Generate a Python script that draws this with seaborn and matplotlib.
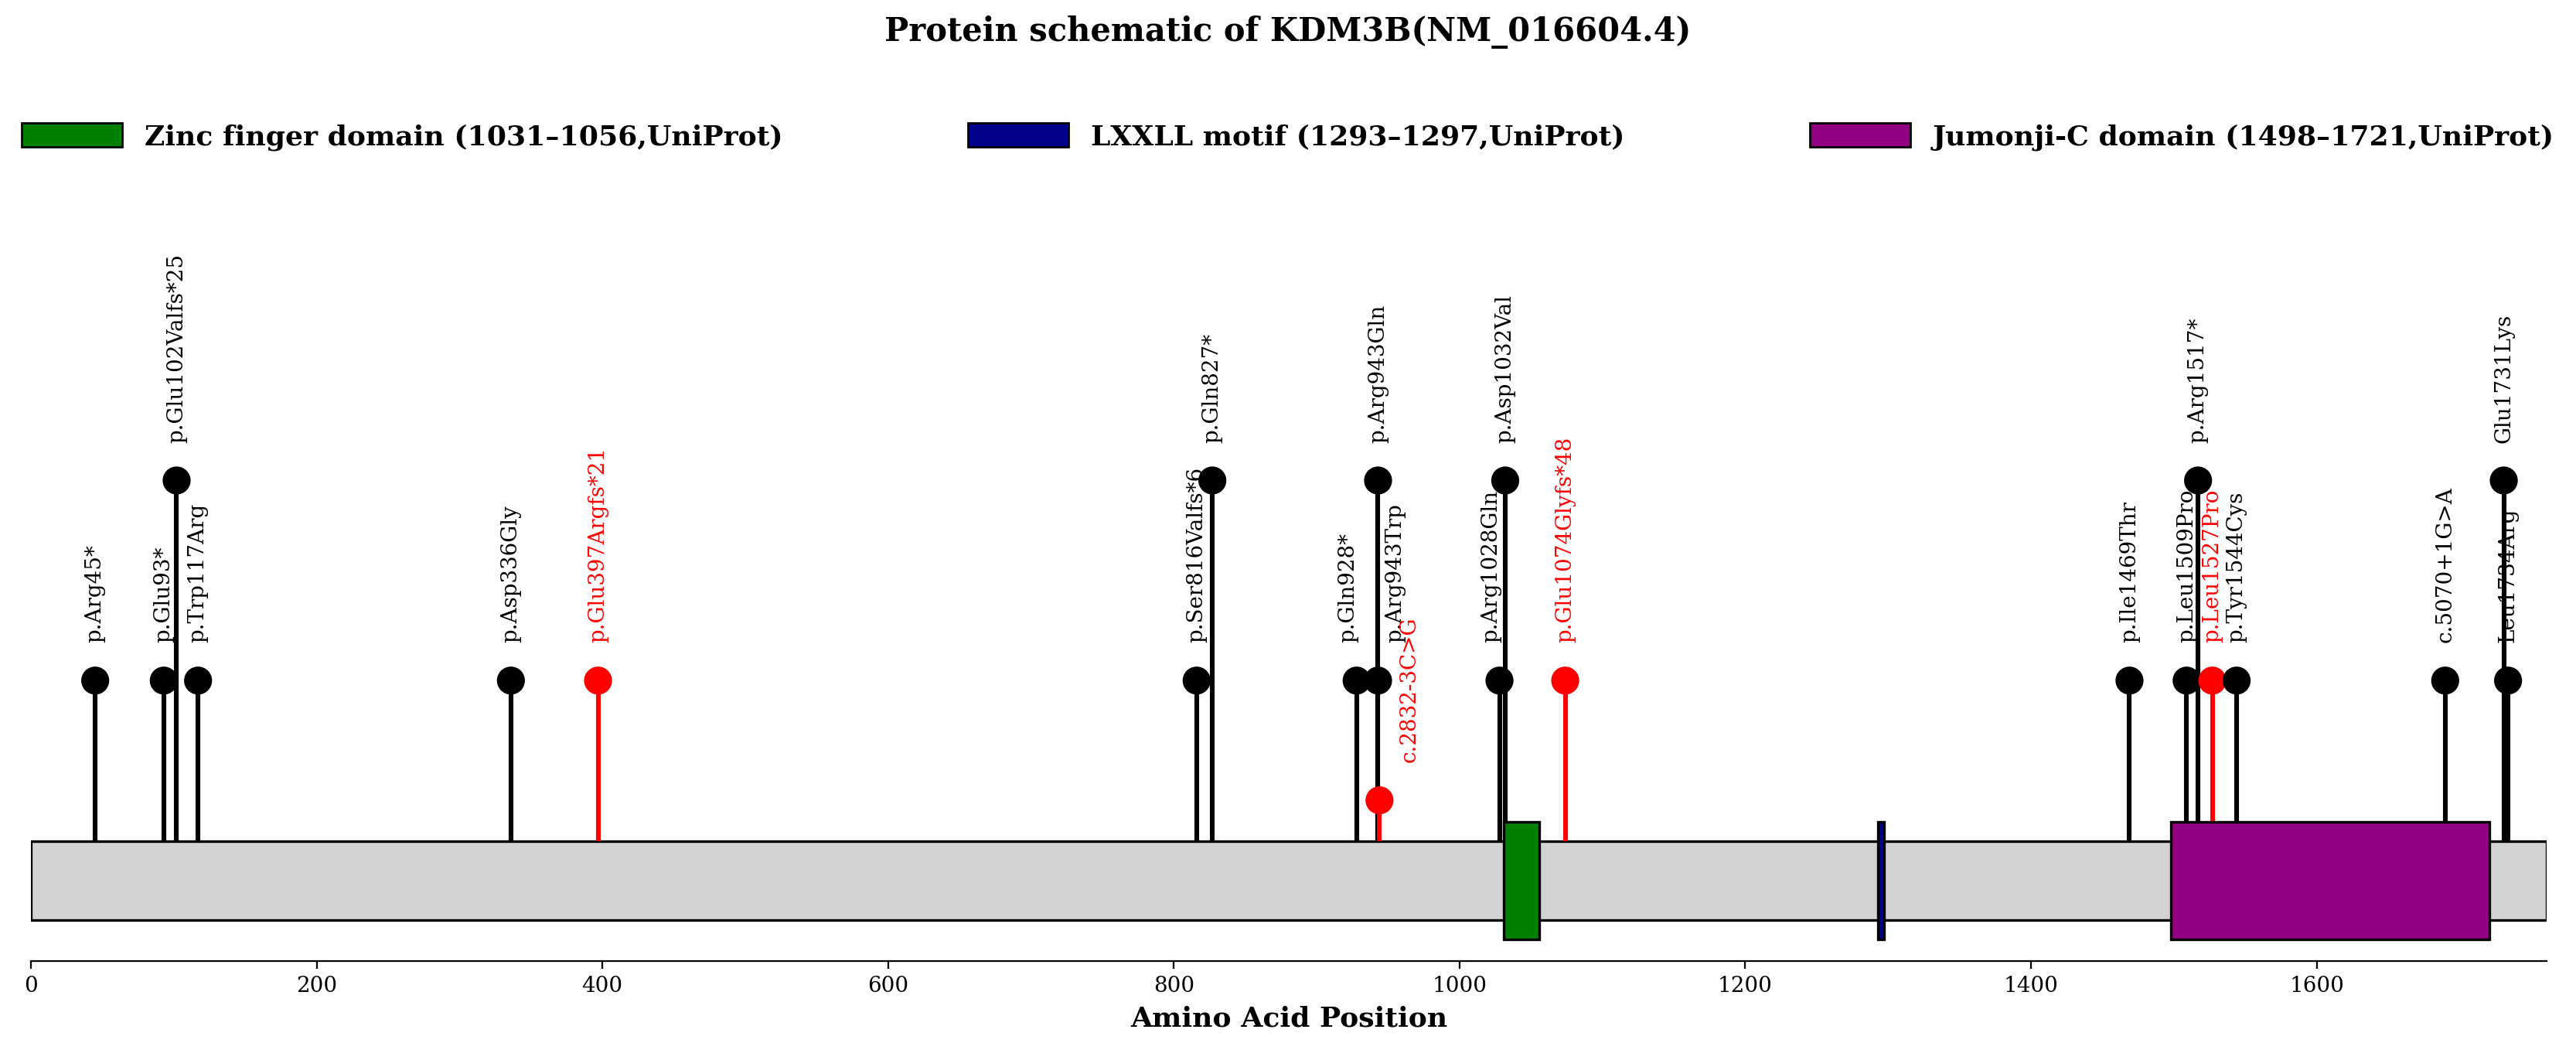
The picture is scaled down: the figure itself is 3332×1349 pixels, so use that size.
import matplotlib
matplotlib.use('Agg')
import matplotlib.pyplot as plt
import matplotlib.patches as mpatches
import seaborn as sns
import pandas as pd

# Данные белка
protein_length = 1761
domain_names = ['Zinc finger domain (1031–1056,UniProt)',
                'LXXLL motif (1293–1297,UniProt)',
                'Jumonji-C domain (1498–1721,UniProt)']
domain_start = [1031, 1293, 1498]
domain_end = [1056, 1297, 1721]
domain_colors = ['green', 'darkblue', '#920082']

# Варианты
var_pos = [45, 93, 102, 117, 336, 397, 816, 827, 928, 943, 943, 944,
           1028, 1032, 1074, 1469, 1509, 1517, 1527, 1544, 1690, 1731, 1734]
var_height = [3.04, 3.04, 5.58, 3.04, 3.04, 3.04, 3.04, 5.58, 3.04, 5.58, 3.04, 1.52,
              3.04, 5.58, 3.04, 3.04, 3.04, 5.58, 3.04, 3.04, 3.04, 5.58, 3.04]
var_label = ['p.Arg45*', 'p.Glu93*', 'p.Glu102Valfs*25', 'p.Trp117Arg', 'p.Asp336Gly',
             'p.Glu397Argfs*21', 'p.Ser816Valfs*6', 'p.Gln827*', 'p.Gln928*',
             'p.Arg943Gln', 'p.Arg943Trp', 'c.2832-3C>G', 'p.Arg1028Gln',
             'p.Asp1032Val', 'p.Glu1074Glyfs*48', 'p.Ile1469Thr', 'p.Leu1509Pro',
             'p.Arg1517*', 'p.Leu1527Pro', 'p.Tyr1544Cys', 'c.5070+1G>A',
             'Glu1731Lys', 'Leu1734Arg']
var_color = ['black'] * 5 + ['red'] + ['black'] * 5 + ['red'] + ['black'] * 2 + ['red'] + \
            ['black'] * 3 + ['red'] + ['black'] * 4

df = pd.DataFrame({'pos': var_pos, 'h': var_height, 'label': var_label, 'color': var_color})

# сдвиг подписей, чтобы не налезали
nudge = {'p.Gln928*': -6, 'p.Arg943Trp': 12, 'c.2832-3C>G': 21, 'p.Arg1028Gln': -6,
         'p.Leu1734Arg': 4}

plt.rcParams['font.family'] = 'DejaVu Serif'
fig = plt.figure(figsize=(16.66, 6.745), dpi=200)
ax = fig.add_axes([0.012, 0.0786, 0.9766, 0.716])

# основной белок
ax.add_patch(mpatches.Rectangle((0, 0), protein_length, 1, facecolor='lightgray',
                                edgecolor='black', linewidth=1.2, zorder=1))

# стебли
for _, r in df.iterrows():
    ax.vlines(r['pos'], 1, r['h'], color=r['color'], linewidth=2.2, zorder=2)
    ax.text(r['pos'] + nudge.get(r['label'], 0), r['h'] + 0.48, r['label'], rotation=90,
            ha='center', va='bottom', fontsize=10, color=r['color'])

sns.scatterplot(data=df, x='pos', y='h', hue='color', palette={'black': 'black', 'red': 'red'},
                s=170, edgecolor='none', legend=False, zorder=3, ax=ax)

# домены
handles = []
for name, s, e, c in zip(domain_names, domain_start, domain_end, domain_colors):
    ax.add_patch(mpatches.Rectangle((s, -0.25), e - s, 1.5, facecolor=c,
                                    edgecolor='black', linewidth=1.2, zorder=4))
    handles.append(mpatches.Patch(facecolor=c, edgecolor='black', label=name))

ax.set_xlim(0, protein_length)
ax.set_ylim(-0.52, 8.96)
for sp in ['top', 'right', 'left']:
    ax.spines[sp].set_visible(False)
ax.set_yticks([])
ax.set_ylabel('')
ax.set_xticks(range(0, 1601, 200))
ax.tick_params(axis='x', labelsize=10)
ax.set_xlabel('Amino Acid Position', fontsize=13, fontweight='bold')

fig.suptitle('Protein schematic of KDM3B(NM_016604.4)', fontsize=15, fontweight='bold', y=0.985)
fig.legend(handles=handles, loc='lower left', ncol=3, mode='expand',
           bbox_to_anchor=(0.004, 0.845, 0.992, 0.06), frameon=False,
           prop={'weight': 'bold', 'size': 13}, handlelength=3.6, handleheight=0.95,
           borderaxespad=0)

fig.savefig('out.png', dpi=200)
